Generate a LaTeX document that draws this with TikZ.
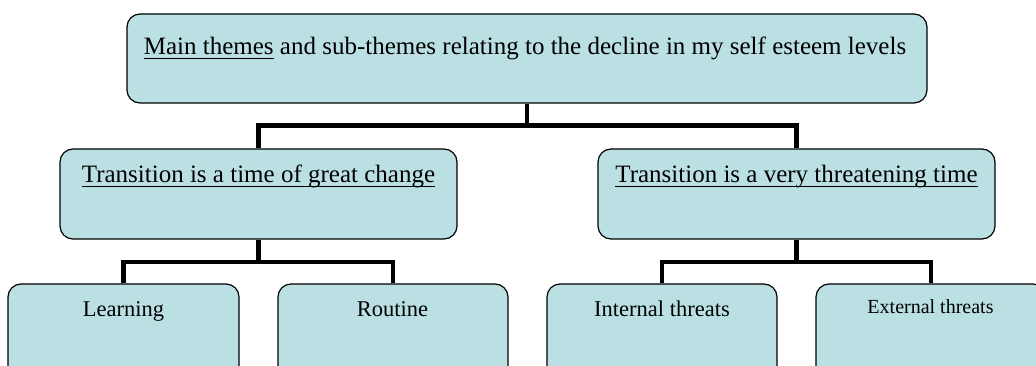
\documentclass[tikz,border=0pt]{standalone}
\usepackage{fontspec}
\setmainfont{Liberation Serif}
\definecolor{boxfill}{RGB}{187,224,227}
\tikzset{
  themebox/.style={draw=black, line width=1.2pt, fill=boxfill, rounded corners=13pt, rectangle, inner sep=0pt},
  conn/.style={draw=black, line width=4.5pt},
  lbl/.style={anchor=base, inner sep=0pt, text=black}
}
\newcommand{\bigsz}{\fontsize{25}{30}\selectfont}
\newcommand{\midsz}{\fontsize{22.5}{27}\selectfont}
\newcommand{\smlsz}{\fontsize{20}{24}\selectfont}
\newcommand{\myul}[1]{\setbox0\hbox{#1}\rlap{\rule[-4.5pt]{\wd0}{1.3pt}}\box0\relax}
\begin{document}
\begin{tikzpicture}[x=1pt,y=-1pt]
\useasboundingbox (0,0) rectangle (1036,366);
\clip (0,0) rectangle (1036,366);
% boxes
\node[themebox, minimum width=800pt, minimum height=89pt] (top) at (527,58.5) {};
\node[themebox, minimum width=397pt, minimum height=90pt] (ml) at (258.5,194) {};
\node[themebox, minimum width=397pt, minimum height=90pt] (mr) at (796.5,194) {};
\node[themebox, minimum width=231pt, minimum height=96pt] (learn) at (123.5,332) {};
\node[themebox, minimum width=230pt, minimum height=96pt] (rout) at (393,332) {};
\node[themebox, minimum width=230pt, minimum height=96pt] (intl) at (662,332) {};
\node[themebox, minimum width=230pt, minimum height=96pt] (extl) at (931,332) {};
% labels
\node[lbl] (ttop) at (525,55) {\bigsz\myul{Main themes} and sub-themes relating to the decline in my self esteem levels};
\node[lbl] (tml) at (258.5,183) {\bigsz\myul{Transition is a time of great change}};
\node[lbl] (tmr) at (796.5,183) {\bigsz\myul{Transition is a very threatening time}};
\node[lbl] (tlearn) at (123.5,316) {\midsz Learning};
\node[lbl] (trout) at (392.5,316) {\midsz Routine};
\node[lbl] (tintl) at (662,316) {\midsz Internal threats};
\node[lbl] (textl) at (930.5,313) {\smlsz External threats};
% junctions
\coordinate (j1) at (527,125.5);
\coordinate (j2) at (258.5,262);
\coordinate (j3) at (796.5,262);
% connectors
\draw[conn] (top.south) -- (j1);
\draw[conn] (ml.north) |- (j1) -| (mr.north);
\draw[conn] (ml.south) -- (j2);
\draw[conn] (learn.north) |- (j2) -| (rout.north);
\draw[conn] (mr.south) -- (j3);
\draw[conn] (intl.north) |- (j3) -| (extl.north);
\end{tikzpicture}
\end{document}
